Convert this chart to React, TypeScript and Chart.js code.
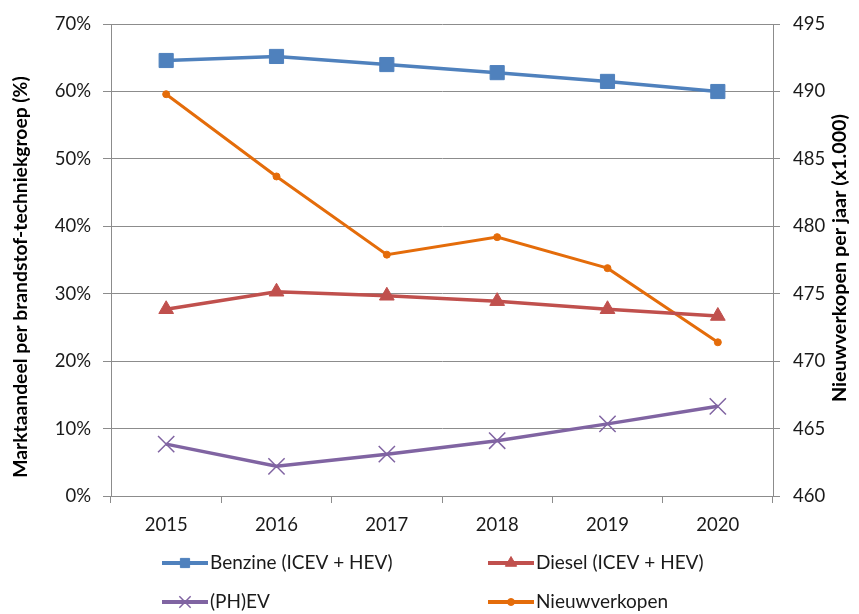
import React, { useEffect, useRef } from "react";
import { Chart, registerables } from "chart.js";
import { drawPoint } from "chart.js/helpers";

Chart.register(...registerables);

const years = ["2015", "2016", "2017", "2018", "2019", "2020"];
const benzine = [64.6, 65.2, 64.0, 62.8, 61.5, 60.0];
const diesel = [27.7, 30.3, 29.7, 28.9, 27.7, 26.7];
const phev = [7.7, 4.4, 6.2, 8.2, 10.7, 13.3];
const nieuwverkopen = [489.8, 483.7, 477.9, 479.2, 476.9, 471.4];

const leftTitle = "Marktaandeel per brandstof-techniekgroep (%)";
const rightTitle = "Nieuwverkopen per jaar (x1.000)";

const FONT = "Lato, 'Open Sans', sans-serif";
const GRID = "#8c8c8c";
const TEXT = "#1a1a1a";

const legendMarkerRadius: Record<string, number> = {
  rect: 6.5,
  triangle: 6.5,
  crossRot: 8,
  circle: 3.5,
};

const extrasPlugin = {
  id: "extras",
  afterDraw(chart: any) {
    const ctx = chart.ctx;
    // axis titles (both read bottom-to-top)
    ctx.save();
    ctx.fillStyle = "#000";
    ctx.textAlign = "center";
    ctx.textBaseline = "middle";
    ctx.font = `bold 19.3px ${FONT}`;
    ctx.translate(21, 277);
    ctx.rotate(-Math.PI / 2);
    ctx.fillText(leftTitle, 0, 0);
    ctx.restore();

    ctx.save();
    ctx.fillStyle = "#000";
    ctx.textAlign = "center";
    ctx.textBaseline = "middle";
    ctx.font = `bold 19.8px ${FONT}`;
    ctx.translate(840, 258);
    ctx.rotate(-Math.PI / 2);
    ctx.fillText(rightTitle, 0, 0);
    ctx.restore();

    // legend in a 2x2 grid
    const pos = [
      [162, 563],
      [488, 563],
      [162, 602],
      [488, 602],
    ];
    chart.data.datasets.forEach((ds: any, i: number) => {
      const [x, y] = pos[i];
      ctx.save();
      ctx.strokeStyle = ds.borderColor;
      ctx.lineWidth = 4;
      ctx.beginPath();
      ctx.moveTo(x, y);
      ctx.lineTo(x + 46, y);
      ctx.stroke();
      ctx.fillStyle = ds.pointBackgroundColor;
      ctx.strokeStyle = ds.pointBorderColor;
      ctx.lineWidth = ds.pointBorderWidth;
      drawPoint(
        ctx,
        {
          pointStyle: ds.pointStyle,
          radius: legendMarkerRadius[ds.pointStyle] ?? 5,
          rotation: 0,
          borderWidth: ds.pointBorderWidth,
        } as any,
        x + 23,
        y
      );
      ctx.fillStyle = TEXT;
      ctx.font = `19px ${FONT}`;
      ctx.textBaseline = "middle";
      ctx.textAlign = "left";
      ctx.fillText(ds.label, x + 48, y);
      ctx.restore();
    });
  },
};

export default function App() {
  const ref = useRef<HTMLCanvasElement>(null);
  useEffect(() => {
    if (!ref.current) return;
    const tickFont = { family: FONT, size: 18.5 };
    const chart = new Chart(ref.current, {
      type: "line",
      data: {
        labels: years,
        datasets: [
          {
            label: "Benzine (ICEV + HEV)",
            data: benzine,
            yAxisID: "y",
            borderColor: "#4F81BD",
            backgroundColor: "#4F81BD",
            pointBackgroundColor: "#4F81BD",
            pointBorderColor: "#4F81BD",
            pointBorderWidth: 1,
            borderWidth: 3.5,
            pointStyle: "rect",
            pointRadius: 10,
            tension: 0,
          },
          {
            label: "Diesel (ICEV + HEV)",
            data: diesel,
            yAxisID: "y",
            borderColor: "#C0504D",
            backgroundColor: "#C0504D",
            pointBackgroundColor: "#C0504D",
            pointBorderColor: "#C0504D",
            pointBorderWidth: 1,
            borderWidth: 3.5,
            pointStyle: "triangle",
            pointRadius: 8.5,
            tension: 0,
          },
          {
            label: "(PH)EV",
            data: phev,
            yAxisID: "y",
            borderColor: "#8064A2",
            backgroundColor: "#8064A2",
            pointBackgroundColor: "#8064A2",
            pointBorderColor: "#8064A2",
            pointBorderWidth: 1.5,
            borderWidth: 3.5,
            pointStyle: "crossRot",
            pointRadius: 11.5,
            tension: 0,
          },
          {
            label: "Nieuwverkopen",
            data: nieuwverkopen,
            yAxisID: "y1",
            borderColor: "#E46C0A",
            backgroundColor: "#E46C0A",
            pointBackgroundColor: "#E46C0A",
            pointBorderColor: "#E46C0A",
            pointBorderWidth: 1,
            borderWidth: 3,
            pointStyle: "circle",
            pointRadius: 3.5,
            tension: 0,
          },
        ],
      },
      options: {
        responsive: false,
        animation: false,
        layout: { padding: { top: 20, bottom: 80, left: 0, right: 0 } },
        plugins: {
          legend: { display: false },
          tooltip: { enabled: false },
        },
        scales: {
          x: {
            offset: true,
            grid: {
              display: true,
              drawOnChartArea: false,
              drawTicks: true,
              tickLength: 7,
              color: GRID,
              offset: true,
            },
            border: { display: true, color: GRID },
            ticks: { font: tickFont, color: TEXT, padding: 11 },
            afterFit: (s: any) => {
              s.height = 38;
            },
          },
          y: {
            position: "left",
            min: 0,
            max: 70,
            ticks: {
              stepSize: 10,
              font: tickFont,
              color: TEXT,
              padding: 12,
              callback: (v: any) => v + "%",
            },
            grid: { color: GRID, tickLength: 8 },
            border: { display: true, color: GRID },
            afterFit: (s: any) => {
              s.width = 111;
            },
          },
          y1: {
            position: "right",
            min: 460,
            max: 495,
            ticks: { stepSize: 5, font: tickFont, color: TEXT, padding: 13 },
            grid: { drawOnChartArea: false, color: GRID, tickLength: 7 },
            border: { display: true, color: GRID },
            afterFit: (s: any) => {
              s.width = 86;
            },
          },
        },
      },
      plugins: [extrasPlugin],
    });
    return () => chart.destroy();
  }, []);
  return (
    <div style={{ position: "fixed", left: 0, top: 0, width: 859, height: 614, background: "#fff" }}>
      <canvas ref={ref} width={859} height={614} style={{ display: "block" }} />
    </div>
  );
}
